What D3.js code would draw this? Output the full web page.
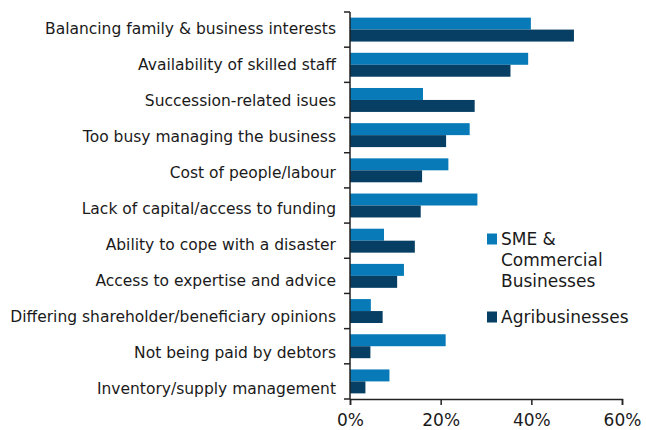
<!DOCTYPE html>
<html>
<head>
<meta charset="utf-8">
<script src="https://cdn.jsdelivr.net/npm/d3@7"></script>
<style>
  body { margin: 0; background: #fff; }
  svg { display: block; font-family: 'DejaVu Sans', Verdana, sans-serif; }
</style>
</head>
<body>
<svg></svg>
<script>
'use strict'

const categories = [
  'Balancing family & business interests',
  'Availability of skilled staff',
  'Succession-related isues',
  'Too busy managing the business',
  'Cost of people/labour',
  'Lack of capital/access to funding',
  'Ability to cope with a disaster',
  'Access to expertise and advice',
  'Differing shareholder/beneficiary opinions',
  'Not being paid by debtors',
  'Inventory/supply management'
]

const series = ['SME & Commercial Businesses', 'Agribusinesses']
const smeValues = [39.9, 39.3, 16.1, 26.4, 21.7, 28.1, 7.5, 11.9, 4.6, 21.1, 8.7]
const agriValues = [49.4, 35.4, 27.5, 21.2, 15.9, 15.6, 14.3, 10.4, 7.2, 4.5, 3.4]
const xTicks = [0, 20, 40, 60]

const colors = { 'SME & Commercial Businesses': '#077ab7', 'Agribusinesses': '#073f64' }

const margin = { top: 12, right: 22, bottom: 31, left: 350 }
const width = 646, height = 430

const svg = d3.select('svg')
  .attr('width', width)
  .attr('height', height)

const data = categories.map((c, i) => ({
  category: c,
  values: [
    { key: series[0], value: smeValues[i] },
    { key: series[1], value: agriValues[i] }
  ]
}))

const xScale = d3.scaleLinear()
  .domain([0, 60])
  .range([margin.left, width - margin.right - 2])

const yScale = d3.scaleBand()
  .domain(categories)
  .range([margin.top, height - margin.bottom])
  .padding(0)

// the category labels sit on a slightly wider spacing than the bands
const labelScale = d3.scalePoint()
  .domain(categories)
  .range([28.5, 388.5])

const ySub = d3.scaleBand()
  .domain(series)
  .range([0, yScale.bandwidth()])
  .paddingInner(0)
  .paddingOuter(0.47)

// bars
const groups = svg.append('g')
  .selectAll('g')
  .data(data)
  .enter()
  .append('g')
  .attr('transform', d => 'translate(0,' + yScale(d.category) + ')')

groups.selectAll('rect')
  .data(d => d.values)
  .enter()
  .append('rect')
  .attr('x', xScale(0))
  .attr('y', d => ySub(d.key))
  .attr('width', d => xScale(d.value) - xScale(0))
  .attr('height', ySub.bandwidth())
  .style('fill', d => colors[d.key])

// y axis: labels, ticks at band edges
const yAxis = svg.append('g')
  .attr('class', 'y-axis')
  .attr('transform', 'translate(' + margin.left + ',0)')
  .call(d3.axisLeft(labelScale).tickSize(0).tickPadding(14))

yAxis.select('.domain').remove()
yAxis.selectAll('text')
  .style('font-size', '15.5px')
  .style('font-family', "'DejaVu Sans', Verdana, sans-serif")
  .style('fill', '#1a1a1a')

const edges = categories.map(c => yScale(c)).concat([yScale.range()[1]])
svg.append('g')
  .selectAll('line')
  .data(edges)
  .enter()
  .append('line')
  .attr('x1', margin.left - 6)
  .attr('x2', margin.left)
  .attr('y1', d => d)
  .attr('y2', d => d)
  .style('stroke', '#222')
  .style('stroke-width', 1.5)

svg.append('line')
  .attr('x1', margin.left)
  .attr('x2', margin.left)
  .attr('y1', yScale.range()[0])
  .attr('y2', yScale.range()[1])
  .style('stroke', '#222')
  .style('stroke-width', 1.5)

// x axis
const xAxis = svg.append('g')
  .attr('class', 'x-axis')
  .attr('transform', 'translate(0,' + yScale.range()[1] + ')')
  .call(d3.axisBottom(xScale).tickValues(xTicks).tickSize(6).tickPadding(9).tickFormat(d => d + '%'))

xAxis.select('.domain').style('stroke', '#222').style('stroke-width', 1.5)
xAxis.selectAll('line').style('stroke', '#222').style('stroke-width', 1.5)
xAxis.selectAll('text')
  .style('font-size', '17px')
  .style('font-family', "'DejaVu Sans', Verdana, sans-serif")
  .style('fill', '#1a1a1a')

// legend
const legendLines = [['SME &', 'Commercial', 'Businesses'], ['Agribusinesses']]
const legendY = [239, 317]
const legend = svg.append('g')
  .selectAll('g')
  .data(series)
  .enter()
  .append('g')
  .attr('transform', (d, i) => 'translate(487,' + legendY[i] + ')')

legend.append('rect')
  .attr('x', 0)
  .attr('y', -5.5)
  .attr('width', 10)
  .attr('height', 11)
  .style('fill', d => colors[d])

legend.append('text')
  .attr('x', 14)
  .attr('y', 0)
  .style('font-size', '17px')
  .style('fill', '#1a1a1a')
  .selectAll('tspan')
  .data((d, i) => legendLines[i])
  .enter()
  .append('tspan')
  .attr('x', 14)
  .attr('dy', (d, i) => i === 0 ? '0.35em' : 21)
  .text(d => d)
</script>
</body>
</html>
